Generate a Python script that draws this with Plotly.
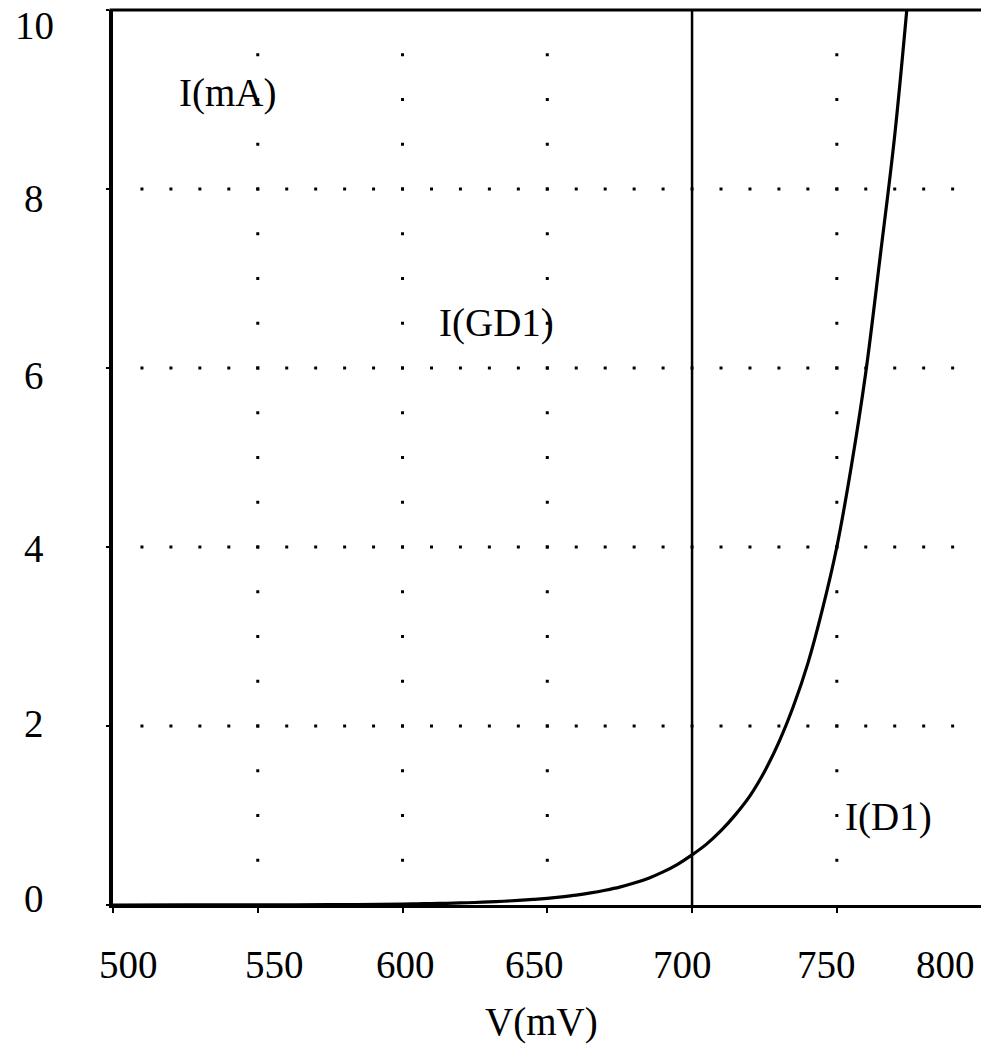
import numpy as np
import plotly.graph_objects as go

# ---- data ----
v_d1 = [500, 525, 550, 575, 600, 605, 610, 615, 620, 625, 630, 635, 640, 645, 650, 655, 660,
        665, 670, 675, 680, 685, 690, 695, 700, 705, 710, 715, 720, 725, 730, 735, 740,
        745, 750, 755, 760, 765, 770, 775]
i_d1 = [0.0002, 0.0005, 0.0014, 0.004, 0.010, 0.013, 0.016, 0.019, 0.023, 0.028, 0.034, 0.042,
        0.051, 0.062, 0.075, 0.091, 0.11, 0.135, 0.165, 0.20, 0.245, 0.30, 0.37, 0.455, 0.56,
        0.68, 0.83, 1.01, 1.22, 1.49, 1.82, 2.22, 2.70, 3.30, 4.00, 4.90, 5.95, 7.25, 8.60, 10.3]

v_gd1 = [700, 700]
i_gd1 = [0, 10]

x_ticks = [500, 550, 600, 650, 700, 750, 800]
x_tick_labels = ["500", "550", "600", "650", "700", "750", "800"]
y_ticks = [0, 2, 4, 6, 8, 10]
y_tick_labels = ["0", "2", "4", "6", "8", "10"]

grid_rows_i = [2, 4, 6, 8]          # dotted horizontal grid rows (mA)
grid_cols_v = [550, 600, 650, 750]  # dotted vertical grid columns (mV)
row_dot_v = list(range(510, 800, 10))
col_dot_i = [k * 0.5 for k in range(1, 20)]

# ---- styling / placement ----
FONT = "Liberation Serif"
FS = 39
X_RANGE = [500, 799.8]
x_label_shift = [15, 17, 3, -13, -10, -10, -36]
y_label_shift = [7, 3, -1, -7, -10, -15]

fig = go.Figure()

# grid dots
gx, gy = [], []
for yi in grid_rows_i:
    for vx in row_dot_v:
        gx.append(vx); gy.append(yi)
for vx in grid_cols_v:
    for yi in col_dot_i:
        gx.append(vx); gy.append(yi)
fig.add_trace(go.Scatter(x=gx, y=gy, mode="markers",
                         marker=dict(symbol="square", size=3, color="black", line=dict(width=0)),
                         hoverinfo="skip", showlegend=False))

fig.add_trace(go.Scatter(x=v_gd1, y=i_gd1, mode="lines",
                         line=dict(color="black", width=2.5), showlegend=False))
fig.add_trace(go.Scatter(x=v_d1, y=i_d1, mode="lines",
                         line=dict(color="black", width=3.2, shape="spline", smoothing=1.0),
                         showlegend=False))

ann = []
for t, lab, s in zip(x_ticks, x_tick_labels, x_label_shift):
    px = (t - X_RANGE[0]) / (X_RANGE[1] - X_RANGE[0])
    ann.append(dict(x=px, y=0, xref="paper", yref="paper", text=lab, showarrow=False,
                    xanchor="center", yanchor="middle", xshift=s, yshift=-59,
                    font=dict(family=FONT, size=FS, color="black")))
for t, lab, s in zip(y_ticks, y_tick_labels, y_label_shift):
    ann.append(dict(x=0, y=t / 10, xref="paper", yref="paper", text=lab, showarrow=False,
                    xanchor="center", yanchor="middle", xshift=-79, yshift=s,
                    font=dict(family=FONT, size=FS, color="black")))

ann.append(dict(x=539.4, y=9.07, xref="x", yref="y", text="I(mA)", showarrow=False,
                xanchor="center", yanchor="middle", font=dict(family=FONT, size=FS, color="black")))
ann.append(dict(x=632.4, y=6.5, xref="x", yref="y", text="I(GD1)", showarrow=False,
                xanchor="center", yanchor="middle", font=dict(family=FONT, size=FS, color="black")))
ann.append(dict(x=768.0, y=0.98, xref="x", yref="y", text="I(D1)", showarrow=False,
                xanchor="center", yanchor="middle", font=dict(family=FONT, size=FS, color="black")))
ann.append(dict(x=647.9, y=0, xref="x", yref="paper", text="V(mV)", showarrow=False,
                xanchor="center", yanchor="middle", yshift=-117,
                font=dict(family=FONT, size=FS, color="black")))

fig.update_layout(
    width=981, height=1064,
    margin=dict(l=113, r=0, t=10, b=159),
    paper_bgcolor="white", plot_bgcolor="white",
    showlegend=False,
    annotations=ann,
    shapes=[dict(type="line", xref="paper", yref="paper", x0=-0.004, x1=1, y0=1, y1=1,
                 line=dict(color="black", width=3))],
    xaxis=dict(range=X_RANGE, showgrid=False, zeroline=False, showline=True,
               linecolor="black", linewidth=3, ticks="outside", ticklen=5, tickwidth=2,
               tickcolor="black", tickvals=x_ticks, showticklabels=False),
    yaxis=dict(range=[0, 10], showgrid=False, zeroline=False, showline=True,
               linecolor="black", linewidth=4, ticks="outside", ticklen=3, tickwidth=2,
               tickcolor="black", tickvals=y_ticks, showticklabels=False),
)

fig.write_html("out.html")
